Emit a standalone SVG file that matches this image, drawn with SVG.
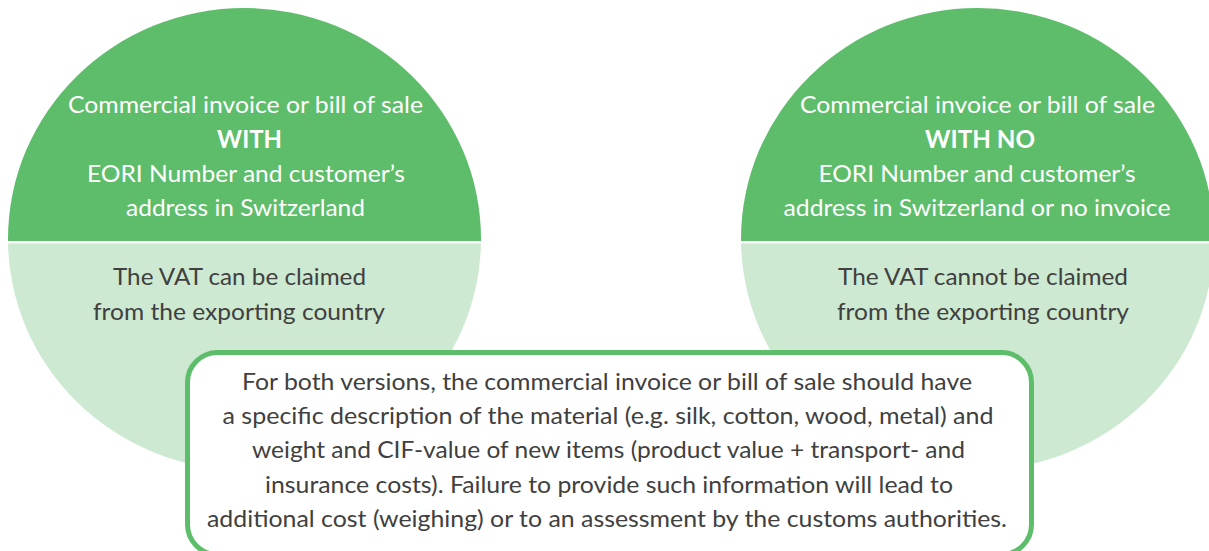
<svg xmlns="http://www.w3.org/2000/svg" width="1209" height="551" viewBox="0 0 1209 551">
<style>
.dark{fill:#5EBD6A}
.light{fill:#CDE9D1}
.t{font-family:Lato,"Open Sans","Liberation Sans",sans-serif;font-size:24px;text-anchor:middle}
.w{fill:#FFFFFF}
.g{fill:#404040}
.b{font-weight:bold}
.box{fill:#FFFFFF;stroke:#5EBD6A;stroke-width:5}
</style>
<defs>
<clipPath id="topHalf"><rect x="0" y="0" width="1209" height="241"/></clipPath>
<clipPath id="bottomHalf"><rect x="0" y="243.5" width="1209" height="320"/></clipPath>
</defs>
<rect width="1209" height="551" fill="#FFFFFF"/>
<g id="left-circle">
<ellipse class="light" cx="244.5" cy="239" rx="236.5" ry="231" clip-path="url(#bottomHalf)"/>
<ellipse class="dark" cx="244.5" cy="239" rx="236.5" ry="231" clip-path="url(#topHalf)"/>
<text class="t w" x="245.5" y="113" textLength="355" lengthAdjust="spacingAndGlyphs">Commercial invoice or bill of sale</text>
<text class="t w b" x="249.5" y="148" textLength="65" lengthAdjust="spacingAndGlyphs">WITH</text>
<text class="t w" x="246" y="182" textLength="318" lengthAdjust="spacingAndGlyphs">EORI Number and customer’s</text>
<text class="t w" x="245.5" y="216" textLength="239" lengthAdjust="spacingAndGlyphs">address in Switzerland</text>
<text class="t g" x="239.5" y="285" textLength="253" lengthAdjust="spacingAndGlyphs">The VAT can be claimed</text>
<text class="t g" x="239" y="320" textLength="292" lengthAdjust="spacingAndGlyphs">from the exporting country</text>
</g>
<g id="right-circle">
<ellipse class="light" cx="977.5" cy="239" rx="236.5" ry="231" clip-path="url(#bottomHalf)"/>
<ellipse class="dark" cx="977.5" cy="239" rx="236.5" ry="231" clip-path="url(#topHalf)"/>
<text class="t w" x="977.5" y="113" textLength="355" lengthAdjust="spacingAndGlyphs">Commercial invoice or bill of sale</text>
<text class="t w b" x="980" y="148" textLength="110" lengthAdjust="spacingAndGlyphs">WITH NO</text>
<text class="t w" x="977" y="182" textLength="317" lengthAdjust="spacingAndGlyphs">EORI Number and customer’s</text>
<text class="t w" x="977" y="216" textLength="387" lengthAdjust="spacingAndGlyphs">address in Switzerland or no invoice</text>
<text class="t g" x="983" y="285" textLength="290" lengthAdjust="spacingAndGlyphs">The VAT cannot be claimed</text>
<text class="t g" x="983" y="320" textLength="292" lengthAdjust="spacingAndGlyphs">from the exporting country</text>
</g>
<g id="note-box">
<rect class="box" x="187.5" y="352.5" width="844" height="202" rx="30" ry="30"/>
<text class="t g" x="607" y="390" textLength="730" lengthAdjust="spacingAndGlyphs">For both versions, the commercial invoice or bill of sale should have</text>
<text class="t g" x="608" y="424" textLength="771" lengthAdjust="spacingAndGlyphs">a specific description of the material (e.g. silk, cotton, wood, metal) and</text>
<text class="t g" x="608.5" y="458" textLength="713" lengthAdjust="spacingAndGlyphs">weight and CIF-value of new items (product value + transport- and</text>
<text class="t g" x="609" y="493" textLength="688" lengthAdjust="spacingAndGlyphs">insurance costs). Failure to provide such information will lead to</text>
<text class="t g" x="607" y="527" textLength="800" lengthAdjust="spacingAndGlyphs">additional cost (weighing) or to an assessment by the customs authorities.</text>
</g>
<g id="connectors"></g>
</svg>
